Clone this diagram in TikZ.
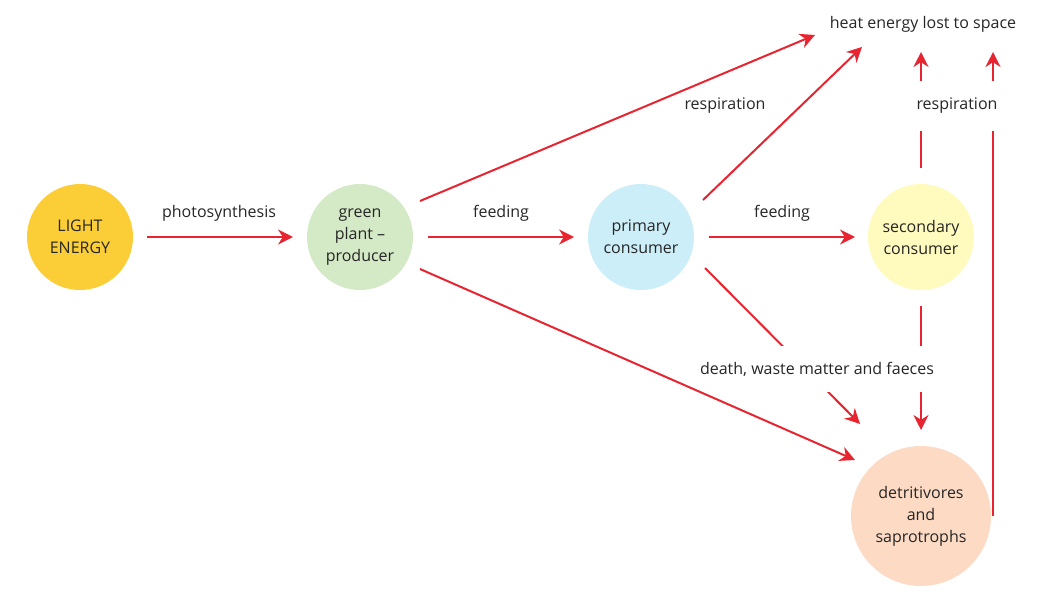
\documentclass[tikz,border=0pt]{standalone}
\usepackage{fontspec}
\setmainfont{Open Sans}
\usetikzlibrary{arrows.meta}
\definecolor{ar}{RGB}{232,36,48}
\definecolor{cy}{RGB}{251,206,55}
\definecolor{cg}{RGB}{212,234,198}
\definecolor{cb}{RGB}{204,238,249}
\definecolor{cl}{RGB}{255,250,190}
\definecolor{co}{RGB}{252,218,196}
\begin{document}
\begin{tikzpicture}[x=1pt,y=-1pt,
  circ/.style={circle,draw=none,minimum size=106pt,align=center,font=\fontsize{16}{22}\selectfont,text=black!85},
  arr/.style={draw=ar,line width=2pt,-{Stealth[length=15pt,width=15pt]}},
  lab/.style={font=\fontsize{16}{20}\selectfont,text=black!85,inner sep=1pt},
  wl/.style={lab,fill=white,inner xsep=3pt}]
\useasboundingbox (0,0) rectangle (1043,602);
\node[circ,fill=cy] (light) at (80,237) {LIGHT\\ENERGY};
\node[circ,fill=cg] (plant) at (360,237) {green\\plant –\\producer};
\node[circ,fill=cb] (prim) at (641,237) {primary\\consumer};
\node[circ,fill=cl] (sec) at (921,237) {secondary\\consumer};
\node[circ,fill=co,minimum size=140pt] (det) at (921,516) {detritivores\\and\\saprotrophs};
\node[lab] (heat) at (923,24) {heat energy lost to space};
\coordinate (h1) at (815,35);
\coordinate (h2) at (862,47);
\coordinate (h3) at (921,52);
\coordinate (h4) at (993,52);
\coordinate (d1) at (855,460);
\coordinate (d2) at (860,424);
\coordinate (d3) at (921,430);
\coordinate (detR) at (993,516);

\draw[arr] (147,237) -- (293,237);
\node[lab] at (219,213) {photosynthesis};
\draw[arr] (428,237) -- (574,237);
\node[lab] at (501,213) {feeding};
\draw[arr] (709,237) -- (855,237);
\node[lab] at (782,213) {feeding};

\draw[arr] (420,201) -- (h1);
\draw[arr] (703,200) -- (h2);
\node[lab] at (725,106) {respiration};
\draw[arr] (921,168) -- (h3);
\draw[arr] (detR) -- (h4);
\node[wl,inner ysep=17pt] at (957,106) {respiration};

\draw[arr] (705,268) -- (d2);
\draw[arr] (921,306) -- (d3);
\node[wl,inner ysep=16pt] at (817,369) {death, waste matter and faeces};
\draw[arr] (420,269) -- (d1);
\end{tikzpicture}
\end{document}
